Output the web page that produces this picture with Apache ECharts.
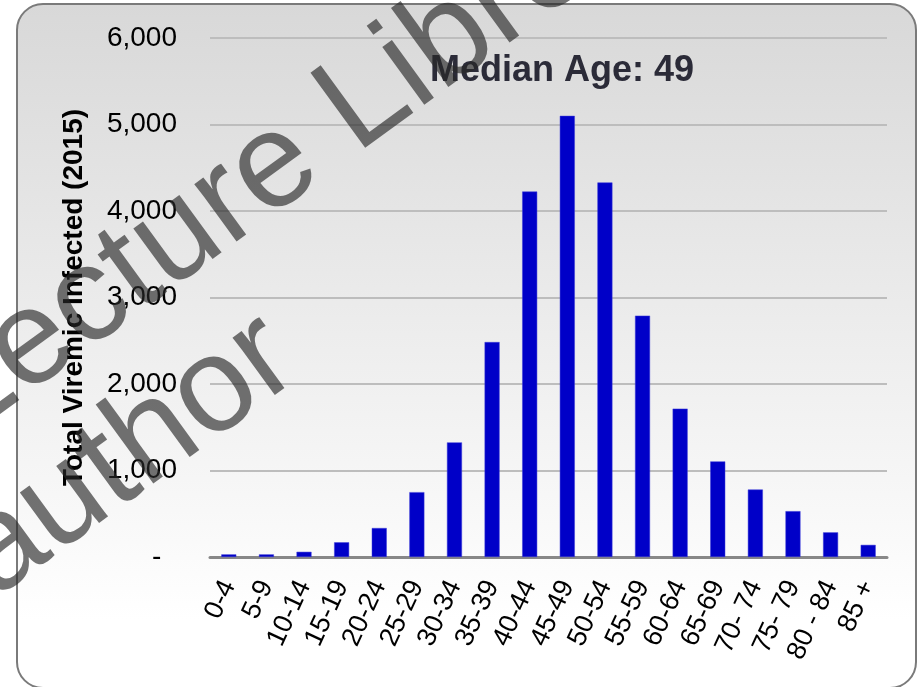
<!DOCTYPE html>
<html>
<head>
<meta charset="utf-8">
<script src="https://cdn.jsdelivr.net/npm/echarts@6/dist/echarts.min.js"></script>
<style>
  html,body{margin:0;padding:0;background:#fff}
  #chart{width:917px;height:687px}
</style>
</head>
<body>
<div id="chart"></div>
<script>
// age groups and viremic counts
var ageGroups = ['0-4','5-9','10-14','15-19','20-24','25-29','30-34','35-39','40-44','45-49',
                 '50-54','55-59','60-64','65-69','70- 74','75- 79','80 - 84','85 +'];
var viremic = [30, 30, 60, 170, 335, 750, 1325, 2485, 4225, 5100,
               4330, 2790, 1715, 1105, 780, 530, 285, 140];
var yTicks = [0, 1000, 2000, 3000, 4000, 5000, 6000];

var chart = echarts.init(document.getElementById('chart'));
var font = 'Liberation Sans, Arial, sans-serif';
var wmRot = 0.63;

chart.setOption({
  animation: false,
  backgroundColor: '#fff',
  title: {
    text: 'Median Age: 49',
    left: 425,
    top: 48,
    textStyle: {fontFamily: font, fontSize: 36, fontWeight: 'bold', color: '#2b2b38'}
  },
  grid: {left: 210, right: 30, top: 38, bottom: 130},
  xAxis: {
    type: 'category',
    data: ageGroups,
    axisLine: {lineStyle: {color: '#888', width: 3}},
    axisTick: {length: 7, lineStyle: {color: '#888', width: 2}},
    axisLabel: {
      rotate: 65, interval: 0, margin: 25,
      fontFamily: font, fontSize: 27, color: '#000'
    }
  },
  yAxis: {
    type: 'value',
    min: yTicks[0],
    max: yTicks[yTicks.length - 1],
    interval: 1000,
    name: 'Total Viremic Infected (2015)',
    nameLocation: 'middle',
    nameGap: 122,
    nameTextStyle: {fontFamily: font, fontSize: 28, fontWeight: 'bold', color: '#000'},
    axisLine: {show: false},
    axisTick: {show: false},
    axisLabel: {
      margin: 33, fontFamily: font, fontSize: 28, color: '#000',
      formatter: function (v) {
        return v === 0 ? '-  ' : v.toLocaleString('en-US');
      }
    },
    splitLine: {lineStyle: {color: '#bdbdbd', width: 2}}
  },
  series: [{
    type: 'bar',
    data: viremic,
    barWidth: 15,
    itemStyle: {color: '#0000c8', borderColor: '#3c3cd8', borderWidth: 0.5}
  }],
  graphic: [
    {
      type: 'rect', z: -10, silent: true,
      shape: {x: 17, y: 4, width: 899, height: 684, r: 26},
      style: {
        fill: new echarts.graphic.LinearGradient(0, 0, 0, 1, [
          {offset: 0, color: '#d8d8d8'},
          {offset: 0.9, color: '#ffffff'},
          {offset: 1, color: '#ffffff'}
        ]),
        stroke: '#7a7a7a', lineWidth: 2
      }
    },
    {
      type: 'text', z: 100, silent: true,
      x: -20, y: 466, rotation: wmRot,
      style: {text: 'Lecture Libre', fontFamily: font, fontSize: 135,
              fill: 'rgba(40,40,40,0.65)', verticalAlign: 'bottom'}
    },
    {
      type: 'text', z: 100, silent: true,
      x: 12, y: 624, rotation: wmRot,
      style: {text: 'author', fontFamily: font, fontSize: 135,
              fill: 'rgba(40,40,40,0.65)', verticalAlign: 'bottom'}
    }
  ]
});
</script>
</body>
</html>
